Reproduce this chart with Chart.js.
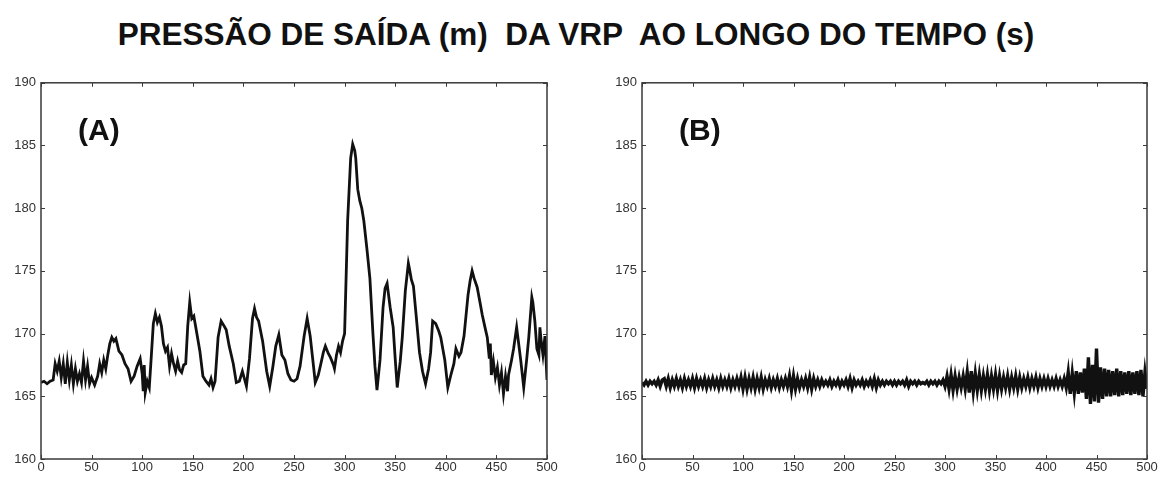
<!DOCTYPE html>
<html>
<head>
<meta charset="utf-8">
<script src="https://cdn.jsdelivr.net/npm/chart.js@4"></script>
<style>
    body { margin: 0; width: 1162px; height: 477px; background: #fff; overflow: hidden; position: relative; }
    #title {
        position: absolute; left: 0; top: 16px; width: 1152px; text-align: center;
        font: bold 31.5px "Liberation Sans", Arial, sans-serif; color: #111; white-space: pre;
    }
    .panel { position: absolute; top: 70px; width: 581px; height: 407px; }
</style>
</head>
<body>
<div id="title">PRESSÃO DE SAÍDA (m)  DA VRP  AO LONGO DO TEMPO (s)</div>
<div class="panel" style="left:0"><canvas id="chartA" width="581" height="407"></canvas></div>
<div class="panel" style="left:581px"><canvas id="chartB" width="581" height="407"></canvas></div>

<script>
// --- Data ---
const xTicks = [0, 50, 100, 150, 200, 250, 300, 350, 400, 450, 500];
const yTicks = [160, 165, 170, 175, 180, 185, 190];

// (A) outlet pressure, sampled by hand along the trace
const timeA = [
    0, 3, 6, 9, 12, 14, 16, 18, 20, 22, 24, 26, 28, 30, 32, 34, 36, 38, 40, 42, 44, 46, 48, 50, 53,
    56, 58, 60, 62, 64, 66, 68, 70, 72, 74, 77, 80, 83, 86, 89, 92, 95, 98, 100, 101, 102, 103, 105, 107, 109,
    111, 113, 115, 117, 119, 121, 123, 125, 127, 129, 131, 133, 135, 137, 139, 141, 143, 145, 147, 149, 151, 154, 157, 160, 163,
    166, 168, 170, 172, 175, 178, 181, 183, 186, 190, 193, 196, 199, 201, 203, 206, 209, 211, 213, 215, 219, 223, 226, 229, 232,
    235, 238, 241, 244, 247, 250, 253, 256, 260, 263, 266, 269, 271, 274, 276, 279, 281, 284, 286, 289, 290, 292, 294, 296, 298,
    300, 303, 306, 308, 310, 311, 313, 315, 317, 319, 322, 325, 328, 330, 332, 335, 338, 340, 342, 345, 348, 350, 352, 355, 357,
    360, 363, 364, 366, 368, 371, 374, 377, 380, 383, 385, 387, 390, 393, 395, 399, 402, 405, 408, 410, 413, 415, 418, 422, 424,
    426, 428, 431, 434, 436, 439, 441, 443, 444, 445, 447, 449, 451, 453, 455, 457, 459, 461, 462, 465, 467, 470, 472, 474, 477,
    480, 482, 485, 486, 488, 490, 492, 493, 494, 496, 498, 500
];
const pressureA = [
    166.1, 166.2, 166.0, 166.2, 166.3, 167.6, 167.0, 167.8, 166.5, 167.6, 166.0, 167.7, 166.3, 167.5, 166.0, 167.2, 166.2, 166.8, 166.1, 167.8, 166.3, 167.4, 166.0, 166.5, 165.9,
    166.6, 167.6, 166.9, 167.9, 167.2, 168.3, 169.2, 169.7, 169.4, 169.6, 168.6, 168.3, 167.6, 167.2, 166.2, 166.6, 167.4, 168.0, 166.8, 165.4, 167.5, 165.3, 166.2, 165.7, 168.2,
    170.8, 171.6, 170.9, 171.3, 170.6, 169.2, 168.6, 168.9, 167.4, 168.4, 167.6, 167.0, 167.8, 167.1, 166.9, 167.5, 167.6, 170.6, 172.5, 171.2, 171.4, 170.0, 168.6, 166.6, 166.2,
    165.9, 166.4, 165.7, 166.2, 169.7, 171.0, 170.6, 170.3, 169.0, 167.6, 166.1, 166.2, 167.0, 166.4, 165.8, 168.0, 171.2, 172.0, 171.3, 171.0, 169.4, 167.0, 165.8, 167.3, 169.0,
    169.9, 168.3, 167.9, 166.8, 166.3, 166.2, 166.4, 167.4, 169.8, 171.2, 169.8, 167.6, 166.1, 166.7, 167.4, 168.5, 169.0, 168.4, 168.1, 167.5, 167.2, 168.3, 169.0, 168.5, 169.4,
    170.0, 179.0, 184.0, 185.1, 184.6, 184.0, 181.5, 180.6, 180.0, 179.0, 176.8, 174.4, 170.0, 167.4, 165.5, 167.9, 172.1, 173.6, 174.0, 172.1, 170.5, 168.0, 165.7, 167.8, 169.7,
    173.4, 175.6, 175.2, 174.3, 173.8, 171.2, 168.5, 167.0, 166.0, 167.2, 168.5, 171.0, 170.8, 170.2, 169.7, 167.9, 165.7, 166.7, 167.6, 168.8, 168.2, 168.5, 169.8, 173.1, 174.2,
    175.0, 174.4, 173.7, 172.4, 171.5, 170.4, 169.7, 168.0, 169.2, 166.7, 167.8, 166.5, 167.3, 165.9, 166.9, 165.2, 166.6, 165.4, 166.7, 167.9, 168.8, 170.5, 169.2, 167.9, 165.7,
    168.0, 169.7, 172.9, 172.5, 171.0, 168.8, 168.3, 170.5, 169.6, 168.3, 169.8, 166.3
];

// (B) outlet pressure, one reading every 2 s
const stepB = 2;
const pressureB = [
    166.1, 165.9, 166.2, 165.9, 166.2, 166.0, 166.2, 165.9, 166.3, 165.8, 166.3,
    166.4, 165.8, 166.4, 165.7, 166.3, 165.8, 166.4, 165.8, 166.3, 165.7,
    166.4, 165.8, 166.3, 165.8, 166.4, 165.7, 166.4, 165.8, 166.3, 165.8,
    166.4, 165.7, 166.3, 165.8, 166.4, 165.8, 166.3, 165.7, 166.4, 165.8,
    166.3, 165.8, 166.4, 165.7, 166.3, 165.8, 166.4, 165.8, 166.5, 165.6,
    166.5, 165.6, 166.4, 165.7, 166.5, 165.6, 166.4, 165.7, 166.5, 165.6,
    166.3, 165.8, 166.4, 165.7, 166.3, 165.8, 166.4, 165.7, 166.3, 165.8,
    166.4, 165.8, 166.6, 165.5, 166.6,
    165.6, 166.4, 165.7, 166.3, 165.8, 166.4, 165.7, 166.5, 165.6, 166.4,
    165.8, 166.3, 165.8, 166.3, 165.9, 166.2, 165.9, 166.3, 165.8, 166.2,
    165.9, 166.3, 165.8, 166.2, 165.9,
    166.3, 165.8, 166.4, 165.7, 166.3, 165.9, 166.2, 165.9, 166.3, 165.8,
    166.2, 165.9, 166.3, 165.8, 166.4, 165.7, 166.3, 165.9, 166.2, 165.9,
    166.2, 166.0, 166.2, 165.9, 166.2,
    165.9, 166.2, 166.0, 166.2, 165.9, 166.3, 165.8, 166.2, 166.0, 166.2,
    165.9, 166.2, 166.0, 166.1, 166.0, 166.2, 165.9, 166.2, 166.0, 166.2,
    165.9, 166.2, 166.0, 166.3, 165.8,
    166.6, 165.6, 166.7, 165.5, 166.6, 165.6, 166.5, 165.7, 166.6, 165.6,
    166.9, 165.3, 167.0, 165.4, 166.8, 165.5, 166.7, 165.5, 166.6, 165.6,
    166.7, 165.5, 166.6, 165.6, 166.7,
    165.5, 166.6, 165.6, 166.5, 165.7, 166.6, 165.6, 166.5, 165.7, 166.6,
    165.6, 166.5, 165.7, 166.4, 165.8, 166.5, 165.7, 166.4, 165.8, 166.5,
    165.7, 166.4, 165.8, 166.4, 165.8,
    166.4, 165.8, 166.3, 165.8, 166.4, 165.8, 166.3, 165.8, 166.4, 165.7,
    166.9, 165.2, 166.8, 165.3, 167.0, 165.2, 166.9, 165.3, 167.2, 164.8,
    168.1, 164.4, 167.5, 164.6, 168.8,
    164.5, 167.3, 164.8, 167.2, 165.0, 167.1, 165.0, 167.0, 165.1, 167.2,
    165.0, 167.0, 165.1, 166.9, 165.2, 167.0, 165.1, 166.9, 165.2, 167.0,
    165.1, 167.1, 165.0, 166.9, 165.6
];

const tickFont = { family: 'Liberation Sans', size: 13 };
const tickColor = '#333';

// box around the plot with inward ticks on all four sides, plus the panel letter
const framePlugin = {
    id: 'frame',
    afterDraw(chart, args, opts) {
        const { ctx, chartArea: a, scales: { x, y } } = chart;
        ctx.save();
        ctx.strokeStyle = '#3a3a3a';
        ctx.lineWidth = 1.5;
        ctx.strokeRect(a.left, a.top, a.right - a.left, a.bottom - a.top);
        ctx.lineWidth = 1;
        ctx.beginPath();
        xTicks.forEach(v => {
            const px = Math.round(x.getPixelForValue(v)) + 0.5;
            ctx.moveTo(px, a.bottom); ctx.lineTo(px, a.bottom - 4);
            ctx.moveTo(px, a.top); ctx.lineTo(px, a.top + 4);
        });
        yTicks.forEach(v => {
            const py = Math.round(y.getPixelForValue(v)) + 0.5;
            ctx.moveTo(a.left, py); ctx.lineTo(a.left + 4, py);
            ctx.moveTo(a.right, py); ctx.lineTo(a.right - 4, py);
        });
        ctx.stroke();

        ctx.fillStyle = '#111';
        ctx.font = 'bold 30px "Liberation Sans"';
        ctx.textBaseline = 'middle';
        ctx.fillText(opts.text, a.left + opts.offsetX, a.top + 49);
        ctx.restore();
    }
};

function makeChart(id, points, lineWidth, padLeft, padRight, label) {
    const ctx = document.getElementById(id).getContext('2d');
    return new Chart(ctx, {
        type: 'line',
        data: {
            datasets: [{
                data: points,
                borderColor: '#111',
                borderWidth: lineWidth,
                pointRadius: 0,
                tension: 0,
                fill: false
            }]
        },
        options: {
            responsive: false,
            animation: false,
            layout: { padding: { top: 12, right: padRight, bottom: 0, left: 0 } },
            plugins: {
                legend: { display: false },
                tooltip: { enabled: false },
                frame: { text: label, offsetX: 37 }
            },
            scales: {
                x: {
                    type: 'linear', min: 0, max: 500,
                    afterBuildTicks: s => { s.ticks = xTicks.map(v => ({ value: v })); },
                    afterFit: s => { s.height = 18; },
                    ticks: { font: tickFont, color: tickColor, padding: 1, maxRotation: 0, autoSkip: false },
                    grid: { display: false, drawTicks: false },
                    border: { display: false }
                },
                y: {
                    min: 160, max: 190,
                    afterBuildTicks: s => { s.ticks = yTicks.map(v => ({ value: v })); },
                    afterFit: s => { s.width = padLeft; },
                    ticks: { font: tickFont, color: tickColor, padding: 5 },
                    grid: { display: false, drawTicks: false },
                    border: { display: false }
                }
            }
        },
        plugins: [framePlugin]
    });
}

const pointsA = timeA.map((t, i) => ({ x: t, y: pressureA[i] }));
const pointsB = pressureB.map((v, i) => ({ x: i * stepB, y: v }));

makeChart('chartA', pointsA, 2.8, 41, 34, '(A)');
makeChart('chartB', pointsB, 3.4, 61, 15, '(B)');
</script>
</body>
</html>
